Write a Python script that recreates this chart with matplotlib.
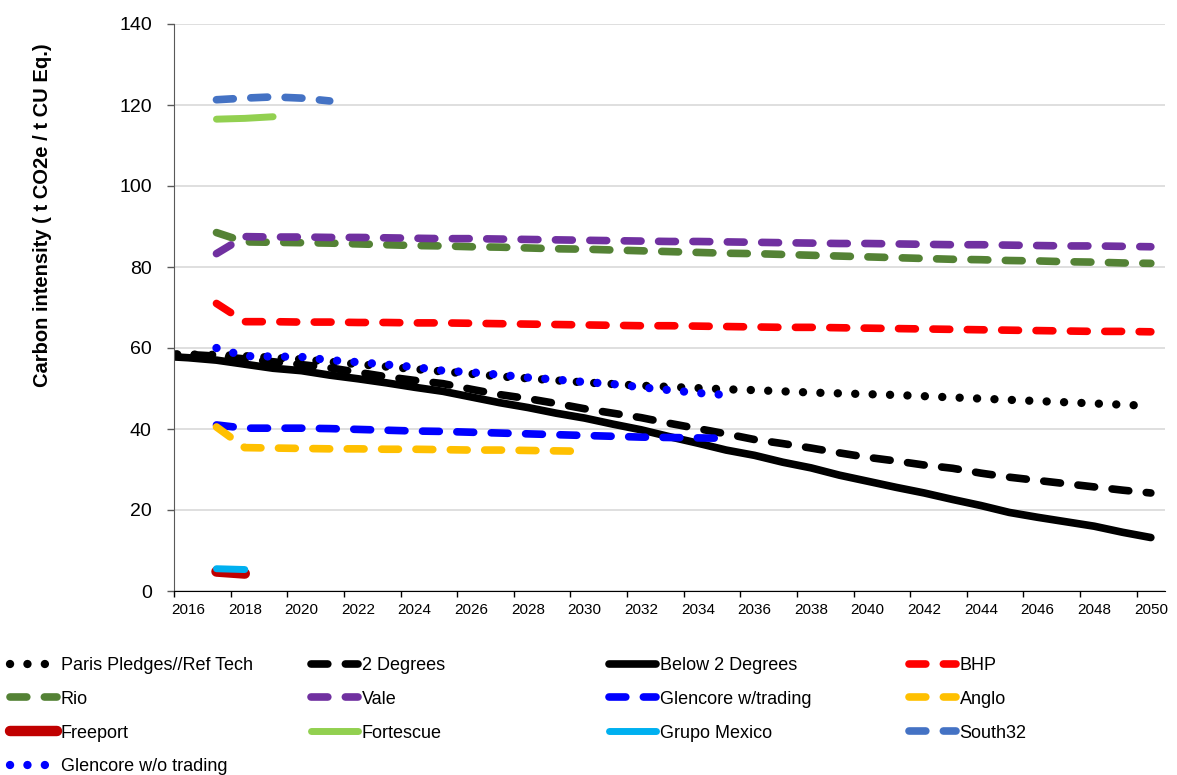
import matplotlib
matplotlib.use("Agg")
import matplotlib.pyplot as plt
import numpy as np

plt.rcParams['font.family'] = ['Liberation Sans', 'DejaVu Sans']

# scenario pathways, one value per year (2015 only shows up at the clipped left edge)
scenario_years = list(range(2015, 2051))
paris = [58.4, 58.4, 58.3, 58.0, 57.6, 57.2, 56.6, 56.0, 55.4, 54.8,
         54.2, 53.6, 53.0, 52.5, 52.0, 51.5, 51.1, 50.7, 50.4, 50.1,
         49.8, 49.6, 49.3, 49.0, 48.8, 48.6, 48.4, 48.1, 47.8, 47.5,
         47.2, 46.9, 46.6, 46.3, 46.0, 45.7]
two_deg = [58.6, 58.4, 58.0, 57.3, 56.6, 55.9, 55.1, 54.0, 52.9, 52.0,
           51.2, 49.8, 48.5, 47.5, 46.3, 45.0, 43.9, 42.8, 41.4, 40.1,
           38.8, 37.4, 36.4, 35.3, 34.1, 33.0, 32.1, 31.1, 30.3, 29.1,
           28.1, 27.3, 26.5, 25.7, 24.9, 24.2]
below_two = [58.0, 57.6, 57.0, 56.0, 55.0, 54.4, 53.3, 52.4, 51.4, 50.3,
             49.3, 47.9, 46.5, 45.3, 43.9, 42.7, 41.2, 39.8, 38.1, 36.5,
             34.8, 33.5, 31.8, 30.4, 28.6, 27.1, 25.6, 24.2, 22.6, 21.1,
             19.4, 18.2, 17.1, 16.0, 14.5, 13.2]

# company targets, all starting in 2017
company_start = 2017
bhp = [71.0, 66.5, 66.5, 66.4, 66.4, 66.3, 66.3, 66.2, 66.2, 66.1,
       66.0, 65.9, 65.8, 65.7, 65.6, 65.5, 65.5, 65.4, 65.3, 65.2,
       65.1, 65.1, 65.0, 64.9, 64.8, 64.7, 64.6, 64.5, 64.4, 64.3,
       64.2, 64.1, 64.1, 64.0]
rio = [88.5, 86.2, 86.1, 86.0, 85.9, 85.7, 85.5, 85.3, 85.2, 85.0,
       84.9, 84.7, 84.5, 84.4, 84.2, 84.0, 83.8, 83.6, 83.4, 83.3,
       83.1, 82.9, 82.7, 82.5, 82.3, 82.1, 81.9, 81.8, 81.6, 81.5,
       81.3, 81.2, 81.0, 80.9]
vale = [83.3, 87.5, 87.4, 87.4, 87.3, 87.3, 87.2, 87.1, 87.0, 87.0,
        86.9, 86.8, 86.7, 86.6, 86.5, 86.4, 86.3, 86.3, 86.2, 86.1,
        86.0, 85.9, 85.8, 85.8, 85.7, 85.6, 85.5, 85.5, 85.4, 85.3,
        85.2, 85.2, 85.1, 85.0]
glencore_w = [41.0, 40.2, 40.2, 40.2, 40.1, 39.9, 39.7, 39.5, 39.4, 39.2,
              39.0, 38.8, 38.6, 38.4, 38.2, 38.0, 37.9, 37.8, 37.7]
anglo = [40.5, 35.4, 35.3, 35.2, 35.1, 35.1, 35.0, 35.0, 34.9, 34.8,
         34.8, 34.7, 34.6, 34.5]
freeport = [4.8, 4.3]
fortescue = [116.5, 116.7, 117.1]
grupo_mexico = [5.5, 5.3]
south32 = [121.3, 121.7, 122.0, 121.7, 121.0]
glencore_wo = [60.0, 58.0, 57.9, 57.8, 57.0, 56.5, 55.9, 55.3, 54.4, 54.0,
               53.4, 52.7, 52.2, 51.6, 51.1, 50.3, 49.6, 48.9, 48.4]

DASH = (0, (2.2, 2.3))
DOT = (0, (0.01, 2.08))

W, H = 1177, 775
fig = plt.figure(figsize=(W / 100, H / 100), dpi=100)
ax = fig.add_axes([174 / W, 1 - 591 / H, (1165 - 174) / W, (591 - 24) / H])


def company_years(values):
    return list(range(company_start, company_start + len(values)))


def draw(years, values, color, style, lw, label):
    line, = ax.plot(years, values, color=color, lw=lw, linestyle=style,
                    dash_capstyle='round', solid_capstyle='round', label=label)
    return line


h_paris = draw(scenario_years, paris, 'black', DOT, 6, 'Paris Pledges//Ref Tech')
h_2deg = draw(scenario_years, two_deg, 'black', DASH, 5.5, '2 Degrees')
h_b2 = draw(scenario_years, below_two, 'black', '-', 5.5, 'Below 2 Degrees')
h_bhp = draw(company_years(bhp), bhp, '#FF0000', DASH, 5.5, 'BHP')
h_rio = draw(company_years(rio), rio, '#548235', DASH, 5.5, 'Rio')
h_vale = draw(company_years(vale), vale, '#7030A0', DASH, 5.5, 'Vale')
h_glw = draw(company_years(glencore_w), glencore_w, '#0000FF', DASH, 5.5, 'Glencore w/trading')
h_anglo = draw(company_years(anglo), anglo, '#FFC000', DASH, 5.5, 'Anglo')
h_free = draw(company_years(freeport), freeport, '#C00000', '-', 7.5, 'Freeport')
h_fort = draw(company_years(fortescue), fortescue, '#92D050', '-', 5, 'Fortescue')
h_grupo = draw(company_years(grupo_mexico), grupo_mexico, '#00B0F0', '-', 5, 'Grupo Mexico')
h_s32 = draw(company_years(south32), south32, '#4472C4', DASH, 5.5, 'South32')
h_glwo = draw(company_years(glencore_wo), glencore_wo, '#0000FF', DOT, 6, 'Glencore w/o trading')

# axes styling (Excel look)
ax.set_xlim(2015.5, 2050.5)
ax.set_ylim(0, 140)
ax.set_yticks(np.arange(0, 141, 20))
ax.set_xticks(np.arange(2016, 2051, 2))
ax.set_xticks(np.arange(2015.5, 2050, 2), minor=True)
ax.tick_params(axis='x', which='major', length=0, labelsize=11, pad=9)
ax.tick_params(axis='x', which='minor', length=4, width=1, color='black')
ax.tick_params(axis='y', length=5, width=1, labelsize=14, pad=11, color='#595959')
ax.grid(axis='y', color='#D9D9D9', lw=1.2)
ax.set_axisbelow(True)
for s in ['top', 'right']:
    ax.spines[s].set_visible(False)
ax.spines['left'].set_color('#595959')
ax.spines['bottom'].set_color('black')

fig.text(43 / W, 1 - 215 / H, 'Carbon intensity ( t CO2e / t CU Eq.)', rotation=90,
         ha='center', va='center', fontsize=14.5, fontweight='bold')

# legend laid out in four fixed columns like the original
columns = [[h_paris, h_rio, h_free, h_glwo],
           [h_2deg, h_vale, h_fort],
           [h_b2, h_glw, h_grupo],
           [h_bhp, h_anglo, h_s32]]
col_x = [10, 311, 609, 909]
for handles, x in zip(columns, col_x):
    fig.legend(handles=handles, loc='upper left', bbox_to_anchor=(x / W, 1 - 657 / H),
               frameon=False, fontsize=13, handlelength=2.6, handletextpad=0.2,
               labelspacing=0.93, borderpad=0, borderaxespad=0)

fig.savefig('out.png', dpi=100)
